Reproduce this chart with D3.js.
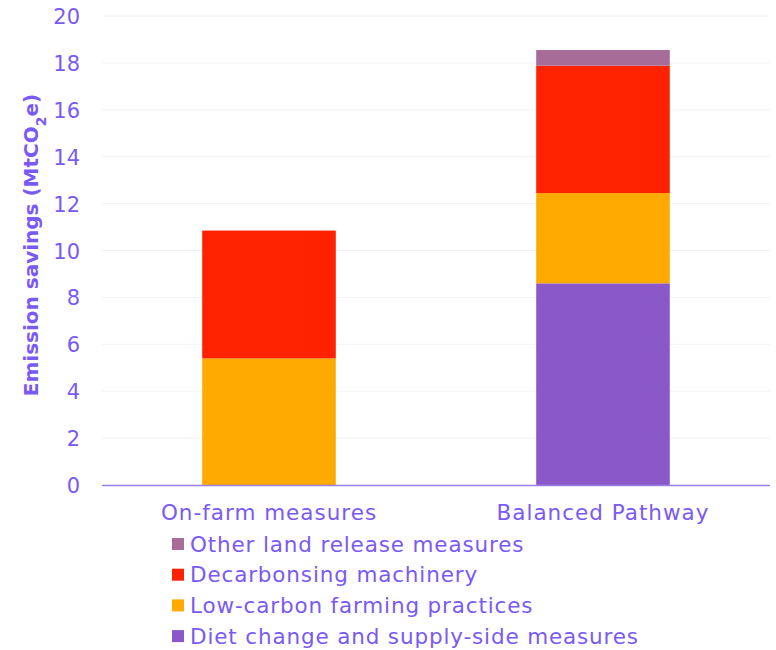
<!DOCTYPE html>
<html>
<head>
<meta charset="utf-8">
<script src="https://cdn.jsdelivr.net/npm/d3@7"></script>
<style>
  html, body { margin: 0; padding: 0; background: #fff; }
  svg text { font-family: "DejaVu Sans", sans-serif; }
</style>
</head>
<body>
<svg id="chart" width="776" height="650"></svg>
<script>
// Emission savings by pathway, stacked by measure type (MtCO2e)
const categories = ["On-farm measures", "Balanced Pathway"];
const seriesNames = [
  "Diet change and supply-side measures",
  "Low-carbon farming practices",
  "Decarbonsing machinery",
  "Other land release measures"
];
const dietChange   = [0, 8.6];
const lowCarbon    = [5.4, 3.85];
const machinery    = [5.45, 5.43];
const otherLand    = [0, 0.67];
const yTicks = [0, 2, 4, 6, 8, 10, 12, 14, 16, 18, 20];
const colors = ["#8a58c9", "#ffaa00", "#ff2200", "#a86c99"];

const textColor = "#7a5af5";
const svg = d3.select("#chart");
const margin = { left: 102, right: 6, top: 16, bottom: 165 };
const W = 776, H = 650;

const rows = categories.map((c, i) => ({
  cat: c,
  s0: dietChange[i], s1: lowCarbon[i], s2: machinery[i], s3: otherLand[i]
}));
const stack = d3.stack().keys(["s0", "s1", "s2", "s3"]);
const layers = stack(rows);

const x = d3.scaleBand()
  .domain(categories)
  .range([margin.left, W - margin.right])
  .paddingInner(0.6)
  .paddingOuter(0.3);
const y = d3.scaleLinear().domain([0, 20]).range([H - margin.bottom, margin.top]);

// light horizontal gridlines
svg.append("g")
  .selectAll("line")
  .data(yTicks.filter(t => t > 0))
  .join("line")
  .attr("x1", margin.left).attr("x2", W - margin.right)
  .attr("y1", d => y(d)).attr("y2", d => y(d))
  .attr("stroke", "#f2f2f2").attr("stroke-width", 1);

// stacked bars
svg.append("g")
  .selectAll("g")
  .data(layers)
  .join("g")
  .attr("fill", (d, i) => colors[i])
  .selectAll("rect")
  .data(d => d)
  .join("rect")
  .attr("x", d => x(d.data.cat))
  .attr("width", x.bandwidth())
  .attr("y", d => y(d[1]))
  .attr("height", d => y(d[0]) - y(d[1]));

// y axis tick labels
const yAxis = d3.axisLeft(y).tickValues(yTicks).tickSize(0).tickPadding(0);
const gy = svg.append("g")
  .attr("transform", `translate(${margin.left - 22},0)`)
  .call(yAxis);
gy.select(".domain").remove();
gy.selectAll("text")
  .attr("fill", textColor)
  .style("font-size", "21px")
  .attr("dy", "0.36em");

// x axis baseline and category labels
const xAxis = d3.axisBottom(x).tickSize(0).tickPadding(20);
const gx = svg.append("g")
  .attr("transform", `translate(0,${y(0)})`)
  .call(xAxis);
gx.select(".domain").attr("stroke", "#9b80ea").attr("stroke-width", 1.3)
  .attr("d", `M${margin.left},0.5H${W - margin.right}`);
gx.selectAll("text")
  .attr("fill", textColor)
  .style("font-size", "21.5px")
  .style("letter-spacing", "1px");

// y axis title
const title = svg.append("text")
  .attr("transform", `translate(38,${245}) rotate(-90)`)
  .attr("text-anchor", "middle")
  .attr("fill", textColor)
  .style("font-size", "20px")
  .style("font-weight", "bold");
title.append("tspan").text("Emission savings (MtCO");
title.append("tspan").text("2").attr("baseline-shift", "sub").style("font-size", "14px");
title.append("tspan").text("e)");

// legend (top entry is the top of the stack)
const legendItems = seriesNames.map((n, i) => ({ name: n, color: colors[i] })).reverse();
const legend = svg.append("g").attr("transform", "translate(172,544)");
const li = legend.selectAll("g")
  .data(legendItems)
  .join("g")
  .attr("transform", (d, i) => `translate(0,${i * 30.7})`);
li.append("rect")
  .attr("x", 0).attr("y", -6)
  .attr("width", 12).attr("height", 12)
  .attr("fill", d => d.color);
li.append("text")
  .attr("x", 18).attr("dy", "0.36em")
  .attr("fill", textColor)
  .style("font-size", "21.5px")
  .style("letter-spacing", "0.85px")
  .text(d => d.name);
</script>
</body>
</html>
